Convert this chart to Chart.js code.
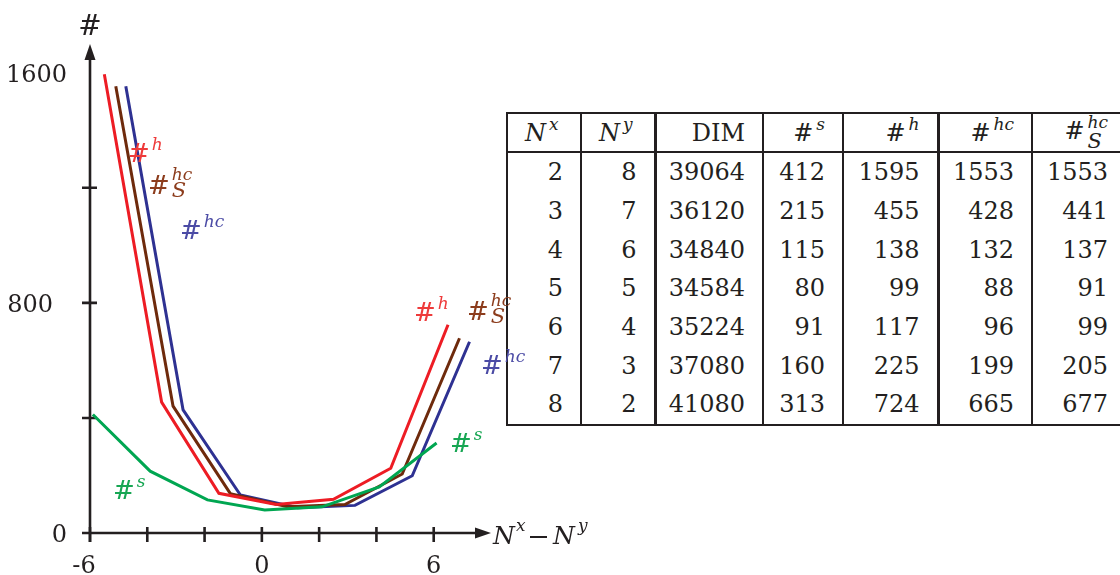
<!DOCTYPE html>
<html>
<head>
<meta charset="UTF-8">
<title>#h, #hc, #S hc vs Nx - Ny</title>
<script src="https://cdn.jsdelivr.net/npm/chart.js"></script>
<style>
    body { margin: 0; background: #fff; font-family: 'DejaVu Serif', 'Liberation Serif', serif; color: #231f20; }
    #wrap { position: relative; width: 1120px; height: 575px; overflow: hidden; }
    #chart { position: absolute; left: 0; top: 0; z-index: 2; }
    #tbl {
        position: absolute; left: 506px; top: 112px; z-index: 1; width: 628px;
        border-collapse: collapse; table-layout: fixed; font-size: 24px;
    }
    #tbl td, #tbl th {
        font-weight: normal; text-align: right; padding: 0 17px 0 0;
        height: 38.7px; line-height: 28px; white-space: nowrap; overflow: visible;
        border-left: 2px solid #231f20; border-right: 2px solid #231f20;
    }
    #tbl thead th { border-top: 2.5px solid #231f20; border-bottom: 2.5px solid #231f20; height: 36px; }
    #tbl tbody tr:last-child td { border-bottom: 2.5px solid #231f20; }
    #tbl .thick { border-left-width: 3px; }
    #tbl th.lft { text-align: left; padding: 0 0 0 17px; }
    sup { font-size: 17px; vertical-align: 11px; line-height: 0; margin-left: 3px; }
    .ss { display: inline-flex; flex-direction: column; vertical-align: middle; font-size: 17px; line-height: 17px; margin-left: 3px; text-align: left; }
    .ss i:last-child { font-size: 21px; line-height: 20px; }
</style>
</head>
<body>
<div id="wrap">
    <table id="tbl">
        <colgroup>
            <col style="width:74px"><col style="width:74px"><col style="width:108px"><col style="width:80px">
            <col style="width:95px"><col style="width:94px"><col style="width:103px">
        </colgroup>
        <thead>
            <tr>
                <th class="lft"><i>N</i><sup><i>x</i></sup></th>
                <th class="lft"><i>N</i><sup><i>y</i></sup></th>
                <th class="thick">DIM</th>
                <th>#<sup><i>s</i></sup></th>
                <th>#<sup><i>h</i></sup></th>
                <th class="thick">#<sup><i>hc</i></sup></th>
                <th style="padding-right:26px">#<span class="ss"><i>hc</i><i>S</i></span></th>
            </tr>
        </thead>
        <tbody id="rows"></tbody>
    </table>
    <canvas id="chart" width="1120" height="575"></canvas>
</div>

<script>
    // Werte aus der Tabelle
    const nx = [2, 3, 4, 5, 6, 7, 8];
    const ny = [8, 7, 6, 5, 4, 3, 2];
    const dim = [39064, 36120, 34840, 34584, 35224, 37080, 41080];
    const countS = [412, 215, 115, 80, 91, 160, 313];
    const countH = [1595, 455, 138, 99, 117, 225, 724];
    const countHC = [1553, 428, 132, 88, 96, 199, 665];
    const countSHC = [1553, 441, 137, 91, 99, 205, 677];

    // horizontale Verschiebung der Kurven (wie im Original)
    const shiftS = 0.1, shiftH = 0.5, shiftSHC = 0.9, shiftHC = 1.25;

    const xTicks = [-6, -4, -2, 0, 2, 4, 6];
    const xLabels = [-6, 0, 6];
    const yTicks = [400, 800, 1200];
    const yLabels = [0, 800, 1600];

    // Tabelle füllen
    const tbody = document.getElementById('rows');
    nx.forEach((v, i) => {
        tbody.innerHTML += `<tr><td>${v}</td><td>${ny[i]}</td><td class="thick">${dim[i]}</td><td>${countS[i]}</td>` +
            `<td>${countH[i]}</td><td class="thick">${countHC[i]}</td><td style="padding-right:26px">${countSHC[i]}</td></tr>`;
    });

    const diff = nx.map((v, i) => v - ny[i]);
    const pts = (vals, shift) => vals.map((y, i) => ({ x: diff[i] + shift, y }));

    const ink = '#231f20';
    const FONT = '"DejaVu Serif", "Liberation Serif", serif';

    // #^sup_sub beschriften
    function hashLabel(ctx, x, y, sup, sub, color) {
        ctx.fillStyle = color;
        ctx.font = '26px ' + FONT;
        ctx.textAlign = 'left';
        ctx.textBaseline = 'alphabetic';
        ctx.fillText('#', x, y);
        const w = ctx.measureText('#').width + 2;
        ctx.font = 'italic 17px ' + FONT;
        ctx.fillText(sup, x + w, y - (sub ? 14 : 12));
        if (sub) {
            ctx.font = 'italic 21px ' + FONT;
            ctx.fillText(sub, x + w, y + 3);
        }
    }

    const axesPlugin = {
        id: 'axes',
        beforeDatasetsDraw(chart) {
            const { ctx, scales: { x, y } } = chart;
            const x0 = x.getPixelForValue(-6), y0 = y.getPixelForValue(0);
            const xEnd = x.getPixelForValue(x.max), yEnd = y.getPixelForValue(y.max);
            ctx.save();
            ctx.strokeStyle = ink; ctx.fillStyle = ink; ctx.lineWidth = 2.6;
            ctx.beginPath();
            ctx.moveTo(x0, y0 + 9); ctx.lineTo(x0, yEnd + 8);
            ctx.moveTo(x0 - 8, y0); ctx.lineTo(xEnd - 8, y0);
            ctx.stroke();
            // Pfeilspitzen
            ctx.beginPath();
            ctx.moveTo(x0, yEnd); ctx.lineTo(x0 - 5.5, yEnd + 16); ctx.lineTo(x0 + 5.5, yEnd + 16); ctx.closePath();
            ctx.moveTo(xEnd, y0); ctx.lineTo(xEnd - 16, y0 - 5.5); ctx.lineTo(xEnd - 16, y0 + 5.5); ctx.closePath();
            ctx.fill();
            // Striche
            ctx.beginPath();
            xTicks.forEach(t => { const px = x.getPixelForValue(t); ctx.moveTo(px, y0 - 6); ctx.lineTo(px, y0 + 9); });
            yTicks.forEach(t => { const py = y.getPixelForValue(t); ctx.moveTo(x0 - 8, py); ctx.lineTo(x0 + 7, py); });
            ctx.stroke();
            // Beschriftung
            ctx.font = '24px ' + FONT;
            ctx.textBaseline = 'alphabetic';
            ctx.textAlign = 'center';
            xLabels.forEach(t => ctx.fillText(String(t), x.getPixelForValue(t) - (t < 0 ? 6 : 0), y0 + 40));
            ctx.textAlign = 'right';
            yLabels.forEach(t => ctx.fillText(String(t), x0 - (t === 800 ? 37 : 23), y.getPixelForValue(t) + 9));
            ctx.textAlign = 'center';
            ctx.font = '28px ' + FONT;
            ctx.fillText('#', x0, 35);
            // N^x - N^y
            ctx.textAlign = 'left';
            ctx.font = 'italic 25px ' + FONT;
            ctx.fillText('N', 493, y0 + 11);
            ctx.fillText('N', 553, y0 + 11);
            ctx.font = 'italic 17px ' + FONT;
            ctx.fillText('x', 516, y0 - 2);
            ctx.fillText('y', 578, y0 - 2);
            ctx.fillRect(530, y0 + 3, 17, 2);
            ctx.restore();
        },
        afterDatasetsDraw(chart) {
            const { ctx } = chart;
            ctx.save();
            hashLabel(ctx, 128, 162, 'h', null, '#ee3b3b');
            hashLabel(ctx, 148, 194, 'hc', 'S', '#8c3c1c');
            hashLabel(ctx, 180, 239, 'hc', null, '#4b4ba5');
            hashLabel(ctx, 113, 499, 's', null, '#17a653');
            hashLabel(ctx, 414, 321, 'h', null, '#ee3b3b');
            hashLabel(ctx, 467, 320, 'hc', 'S', '#8c3c1c');
            hashLabel(ctx, 481, 374, 'hc', null, '#4b4ba5');
            hashLabel(ctx, 450, 452, 's', null, '#17a653');
            ctx.restore();
        }
    };

    const line = (data, color) => ({
        data, borderColor: color, borderWidth: 3, showLine: true,
        pointRadius: 0, fill: false, tension: 0, clip: false
    });

    new Chart(document.getElementById('chart'), {
        type: 'scatter',
        data: {
            datasets: [
                line(pts(countS, shiftS), '#00a651'),
                line(pts(countH, shiftH), '#ed1c24'),
                line(pts(countSHC, shiftSHC), '#6e2a0c'),
                line(pts(countHC, shiftHC), '#2e3192')
            ]
        },
        options: {
            responsive: false,
            animation: false,
            devicePixelRatio: 1,
            layout: { padding: { left: 90, right: 629, top: 44, bottom: 42 } },
            scales: {
                x: { type: 'linear', min: -6, max: 8, display: false },
                y: { type: 'linear', min: 0, max: 1700, display: false }
            },
            plugins: { legend: { display: false }, tooltip: { enabled: false } }
        },
        plugins: [axesPlugin]
    });
</script>
</body>
</html>
